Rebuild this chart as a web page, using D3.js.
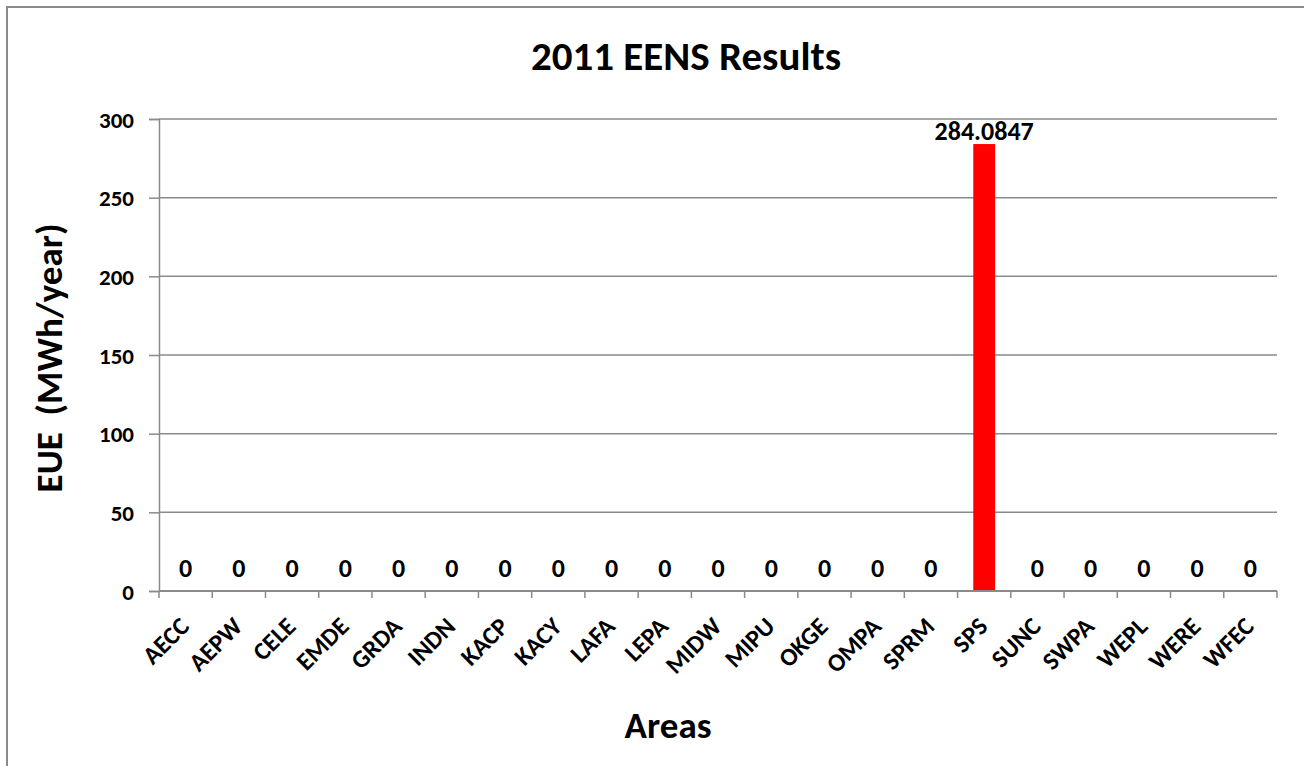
<!DOCTYPE html>
<html>
<head>
<meta charset="utf-8">
<script src="https://cdn.jsdelivr.net/npm/d3@7"></script>
<style>
  html, body { margin: 0; padding: 0; background: #fff; }
  svg { display: block; }
  text { font-family: Carlito, Lato, "Open Sans", sans-serif; font-weight: bold; fill: #000; }
</style>
</head>
<body>
<svg id="chart" width="1304" height="766"></svg>
<script>
// Expected unserved energy by area, 2011 study
const areas = ["AECC","AEPW","CELE","EMDE","GRDA","INDN","KACP","KACY","LAFA","LEPA",
               "MIDW","MIPU","OKGE","OMPA","SPRM","SPS","SUNC","SWPA","WEPL","WERE","WFEC"];
const eue = [0,0,0,0,0,0,0,0,0,0,0,0,0,0,0,284.0847,0,0,0,0,0];
const yTicks = [0,50,100,150,200,250,300];

const svg = d3.select("#chart");
const W = 1304, H = 766;
const m = { left: 159, right: 1277, top: 119, bottom: 591 };
const grey = "#8a8a8a";

// chart frame
svg.append("rect")
  .attr("x", 7).attr("y", 7)
  .attr("width", W + 10).attr("height", H + 10)
  .attr("fill", "#fff").attr("stroke", grey).attr("stroke-width", 2);

const x = d3.scaleBand().domain(areas).range([m.left, m.right]).paddingInner(0).paddingOuter(0);
const y = d3.scaleLinear().domain([0, 300]).range([m.bottom, m.top]);

// gridlines
svg.append("g")
  .selectAll("line").data(yTicks.filter(d => d > 0)).join("line")
  .attr("x1", m.left).attr("x2", m.right)
  .attr("y1", d => y(d)).attr("y2", d => y(d))
  .attr("stroke", grey).attr("stroke-width", 1.5);

// y axis
const yAxis = svg.append("g").attr("transform", `translate(${m.left},0)`)
  .call(d3.axisLeft(y).tickValues(yTicks).tickSize(10).tickPadding(15));
yAxis.select(".domain").attr("stroke", grey).attr("stroke-width", 1.5);
yAxis.selectAll(".tick line").attr("stroke", grey).attr("stroke-width", 1.5);
yAxis.selectAll(".tick text").style("font-size", "23px").attr("dy", "0.36em");

// bars
const barW = x.bandwidth() * 0.41;
svg.append("g").selectAll("rect").data(areas).join("rect")
  .attr("x", (d) => x(d) + (x.bandwidth() - barW) / 2)
  .attr("width", barW)
  .attr("y", (d, i) => y(eue[i]))
  .attr("height", (d, i) => y(0) - y(eue[i]))
  .attr("fill", "#ff0000");

// x axis
const xAxis = svg.append("g").attr("transform", `translate(0,${m.bottom})`)
  .call(d3.axisBottom(x).tickSize(0).tickFormat(""));
xAxis.select(".domain").attr("stroke", grey).attr("stroke-width", 2)
  .attr("d", `M${m.left},0H${m.right}`);
xAxis.append("g").selectAll("line").data(d3.range(areas.length + 1)).join("line")
  .attr("x1", i => m.left + i * x.step()).attr("x2", i => m.left + i * x.step())
  .attr("y1", 0).attr("y2", 7)
  .attr("stroke", grey).attr("stroke-width", 1.5);

// category labels, rotated
svg.append("g").selectAll("text").data(areas).join("text")
  .attr("transform", d => `translate(${x(d) + x.bandwidth() / 2 + 5},${m.bottom + 37}) rotate(-45)`)
  .attr("text-anchor", "end")
  .style("font-size", "25px")
  .text(d => d);

// value labels
svg.append("g").selectAll("text").data(areas).join("text")
  .attr("x", d => x(d) + x.bandwidth() / 2)
  .attr("y", (d, i) => y(eue[i]) - (eue[i] === 0 ? 14 : 4))
  .attr("text-anchor", "middle")
  .style("font-size", "26px")
  .text((d, i) => eue[i] === 0 ? "0" : d3.format(".4f")(eue[i]));

// titles
svg.append("text").attr("x", 686).attr("y", 70).attr("text-anchor", "middle")
  .style("font-size", "41px").text("2011 EENS Results");
svg.append("text").attr("x", 668).attr("y", 738).attr("text-anchor", "middle")
  .style("font-size", "37px").text("Areas");
svg.append("text").attr("transform", `translate(62,358) rotate(-90)`).attr("text-anchor", "middle")
  .style("font-size", "37px").style("white-space", "pre").text("EUE  (MWh/year)");
</script>
</body>
</html>
